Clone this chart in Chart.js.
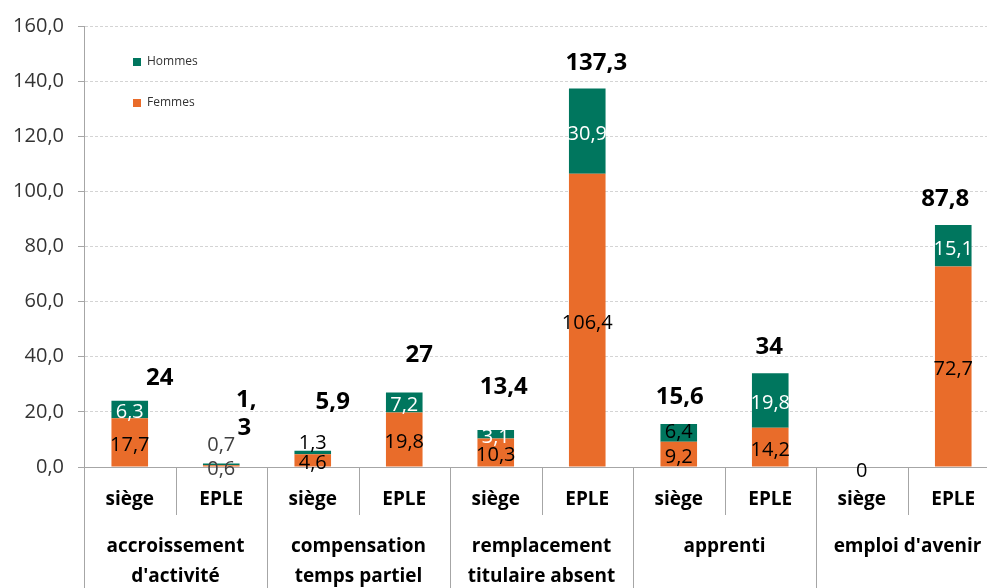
<!DOCTYPE html>
<html lang="fr">
<head>
<meta charset="utf-8">
<script src="https://cdn.jsdelivr.net/npm/chart.js@4/dist/chart.umd.min.js"></script>
<style>
  html, body { margin: 0; padding: 0; background: #fff; overflow: hidden; }
  #wrap { width: 1000px; height: 588px; position: relative; }
</style>
</head>
<body>
<div id="wrap"><canvas id="chart"></canvas></div>
<script>
// --- data ---
const categories = ['siège', 'EPLE', 'siège', 'EPLE', 'siège', 'EPLE', 'siège', 'EPLE', 'siège', 'EPLE'];
const groups = [
  ['accroissement', "d'activité"],
  ['compensation', 'temps partiel'],
  ['remplacement', 'titulaire absent'],
  ['apprenti'],
  ["emploi d'avenir"]
];
const femmes = [17.7, 0.6, 4.6, 19.8, 10.3, 106.4, 9.2, 14.2, 0, 72.7];
const hommes = [6.3, 0.7, 1.3, 7.2, 3.1, 30.9, 6.4, 19.8, 0, 15.1];
const totals = [24, 1.3, 5.9, 27, 13.4, 137.3, 15.6, 34, 0, 87.8];
const yTicks = [0, 20, 40, 60, 80, 100, 120, 140, 160];

// --- styles ---
const ORANGE = '#E96C2A';
const TEAL = '#00765E';
const AXIS = '#A6A6A6';
const FONT = '"Open Sans", "DejaVu Sans", sans-serif';

// label nudges (px) for the manually placed Excel labels
const totalOffsets = [[30, -23], [25, -49], [20, -49], [15, -37], [8, -43], [9, -25], [1, -27], [-1, -26], [0, 4], [-8, -26]];
const wrapTotals = [1];                 // label box too narrow: "1," / "3"
const hommesNudge = { 1: -22, 2: -12, 6: -4 };
const hommesColor = { 1: '#404040', 2: '#000', 6: '#000' };
const femmesColor = { 1: '#404040' };

function fmt(v) {
  return String(v).replace('.', ',');
}

const labelsPlugin = {
  id: 'labels',
  afterDatasetsDraw(chart) {
    const ctx = chart.ctx;
    ctx.save();
    ctx.textAlign = 'center';
    ctx.textBaseline = 'middle';
    ctx.font = '20px ' + FONT;

    // segment values
    const metaF = chart.getDatasetMeta(0);
    const metaH = chart.getDatasetMeta(1);
    metaF.data.forEach((el, i) => {
      if (!femmes[i]) return;
      ctx.fillStyle = femmesColor[i] || '#000';
      ctx.fillText(fmt(femmes[i]), el.x, (el.y + el.base) / 2 + 3);
    });
    metaH.data.forEach((el, i) => {
      if (!hommes[i]) return;
      ctx.fillStyle = hommesColor[i] || '#fff';
      ctx.fillText(fmt(hommes[i]), el.x, (el.y + el.base) / 2 + 3 + (hommesNudge[i] || 0));
    });

    // totals
    metaH.data.forEach((el, i) => {
      const [dx, dy] = totalOffsets[i];
      const x = el.x + dx;
      const y = el.y + dy;
      ctx.fillStyle = '#000';
      if (totals[i] === 0) {
        ctx.font = '20px ' + FONT;
        ctx.fillText('0', x, y);
        return;
      }
      ctx.font = 'bold 24px ' + FONT;
      const txt = fmt(totals[i]);
      if (wrapTotals.includes(i)) {
        const k = txt.indexOf(',') + 1;
        ctx.fillText(txt.slice(0, k), x, y - 14);
        ctx.fillText(txt.slice(k), x - 2, y + 14);
      } else {
        ctx.fillText(txt, x, y);
      }
    });
    ctx.restore();
  },
  afterDraw(chart) {
    const ctx = chart.ctx;
    const xs = chart.scales.x;
    const area = chart.chartArea;
    const w = xs.getPixelForValue(1) - xs.getPixelForValue(0);
    const left = xs.getPixelForValue(0) - w / 2;
    const bottom = chart.height;
    ctx.save();

    // separators of the two-level category axis
    ctx.strokeStyle = AXIS;
    ctx.lineWidth = 1;
    for (let k = 0; k <= categories.length; k++) {
      const x = Math.round(left + k * w) + 0.5;
      ctx.beginPath();
      ctx.moveTo(x, area.bottom);
      ctx.lineTo(x, k % 2 === 0 ? bottom : area.bottom + 48);
      ctx.stroke();
    }

    ctx.fillStyle = '#000';
    ctx.textAlign = 'center';
    ctx.textBaseline = 'middle';
    ctx.font = 'bold 19px ' + FONT;
    categories.forEach((c, i) => {
      ctx.fillText(c, xs.getPixelForValue(i), area.bottom + 33);
    });
    groups.forEach((g, j) => {
      const cx = (xs.getPixelForValue(2 * j) + xs.getPixelForValue(2 * j + 1)) / 2;
      g.forEach((line, n) => ctx.fillText(line, cx, area.bottom + 80 + n * 30));
    });

    // legend (Hommes above Femmes, inside the plot)
    const items = [['Hommes', TEAL], ['Femmes', ORANGE]];
    ctx.font = '12px ' + FONT;
    ctx.textAlign = 'left';
    items.forEach(([name, col], n) => {
      const y = 62 + n * 41;
      ctx.fillStyle = col;
      ctx.fillRect(133, y - 4, 8, 8);
      ctx.fillStyle = '#333';
      ctx.fillText(name, 147, y);
    });
    ctx.restore();
  }
};

new Chart(document.getElementById('chart'), {
  type: 'bar',
  data: {
    labels: categories,
    datasets: [
      { label: 'Femmes', data: femmes, backgroundColor: ORANGE, barPercentage: 0.4, categoryPercentage: 1 },
      { label: 'Hommes', data: hommes, backgroundColor: TEAL, barPercentage: 0.4, categoryPercentage: 1 }
    ]
  },
  options: {
    responsive: true,
    maintainAspectRatio: false,
    animation: false,
    layout: { padding: { top: 23, right: 1, left: 0, bottom: 0 } },
    plugins: { legend: { display: false }, tooltip: { enabled: false } },
    scales: {
      x: {
        stacked: true,
        grid: { display: false },
        border: { display: true, color: AXIS, width: 1 },
        ticks: { display: false },
        afterFit: (s) => { s.height = 121; }
      },
      y: {
        stacked: true,
        min: 0,
        max: 160,
        afterBuildTicks: (s) => { s.ticks = yTicks.map(v => ({ value: v })); },
        ticks: {
          padding: 14,
          color: '#333',
          font: { family: FONT, size: 20 },
          callback: (v) => v.toFixed(1).replace('.', ',')
        },
        grid: {
          color: '#D4D4D4',
          tickColor: AXIS,
          tickLength: 6
        },
        border: { display: true, color: AXIS, width: 1, dash: [3, 2] },
        afterFit: (s) => { s.width = 84; }
      }
    }
  },
  plugins: [labelsPlugin]
});
</script>
</body>
</html>
